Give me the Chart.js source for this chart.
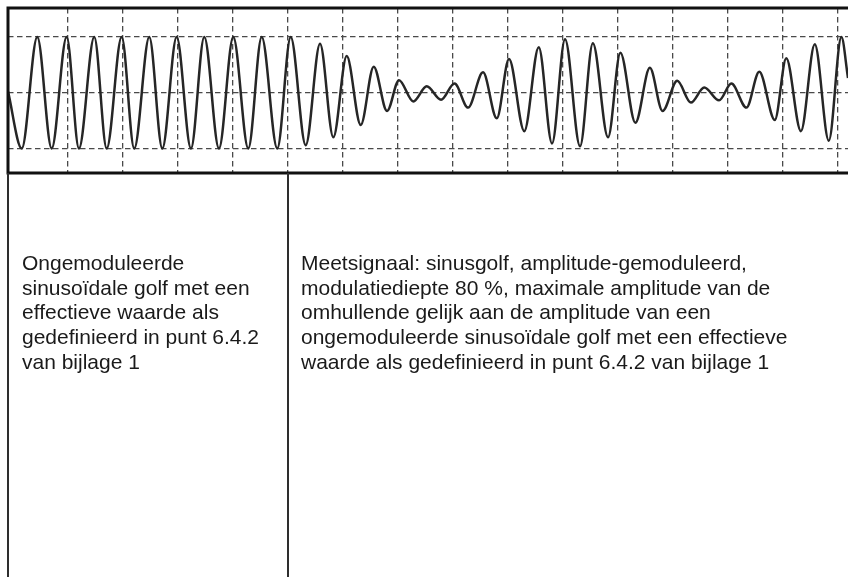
<!DOCTYPE html>
<html>
<head>
<meta charset="utf-8">
<script src="https://cdn.jsdelivr.net/npm/chart.js@4"></script>
<style>
  html, body { margin:0; padding:0; background:#fff; }
  #wrap { position:relative; width:848px; height:577px; overflow:hidden; }
  canvas { position:absolute; left:0; top:0; }
  .vline { position:absolute; top:173px; bottom:0; background:#2e2e2e; }
  .txt { position:absolute; top:251px; font-family:"Liberation Sans", Arial, Helvetica, sans-serif;
         font-size:21px; line-height:24.7px; color:#1a1a1a; white-space:nowrap; }
</style>
</head>
<body>
<div id="wrap">
  <canvas id="c" width="848" height="577"></canvas>
  <div class="vline" style="left:7px;width:2px;"></div>
  <div class="vline" style="left:287px;width:1.5px;"></div>
  <div class="txt" id="leftTxt" style="left:22px;"></div>
  <div class="txt" id="rightTxt" style="left:301px;"></div>
</div>
<script>
// Grid divisions (x) and amplitude levels (y)
const xGrid = [1,2,3,4,5,6,7,8,9,10,11,12,13,14,15];
const yGrid = [-1, 0, 1];

// Unmodulated sine: extrema (x in divisions, y in amplitude)
const unmodX = [-0.09, 0.16, 0.442, 0.704, 0.976, 1.2, 1.478, 1.704, 1.976, 2.205, 2.478, 2.715, 2.976, 3.236, 3.478, 3.745, 4.005, 4.278, 4.522, 4.805];
const unmodY = [0.02, -1, 0.99, -1, 0.99, -1, 0.99, -1, 0.99, -1, 0.99, -1, 0.99, -1, 0.99, -1, 0.99, -1, 0.99, -1];

// Amplitude-modulated signal: extrema
const modX = [5.049, 5.322, 5.582, 5.824, 6.067, 6.322, 6.558, 6.8, 7.018, 7.278, 7.522, 7.782, 8.027, 8.273, 8.545, 8.795, 9.018, 9.295, 9.558, 9.8, 10.036, 10.309, 10.542, 10.818, 11.042, 11.315, 11.578, 11.809, 12.076, 12.324, 12.567, 12.836, 13.06, 13.333, 13.567, 13.849, 14.058, 14.324, 14.576, 14.831, 15.06, 15.18];
const modY = [0.99, -0.94, 0.87, -0.80, 0.65, -0.58, 0.46, -0.33, 0.22, -0.16, 0.11, -0.13, 0.16, -0.27, 0.36, -0.46, 0.60, -0.69, 0.81, -0.91, 0.95, -0.96, 0.88, -0.80, 0.71, -0.54, 0.44, -0.33, 0.21, -0.18, 0.09, -0.14, 0.16, -0.27, 0.37, -0.49, 0.61, -0.69, 0.86, -0.86, 0.99, 0.26];

const xRange = [-0.09, 15.18];
const yRange = [-1.4375, 1.509];

const leftLines = [
  "Ongemoduleerde",
  "sinusoïdale golf met een",
  "effectieve waarde als",
  "gedefinieerd in punt 6.4.2",
  "van bijlage 1"
];
const rightLines = [
  "Meetsignaal: sinusgolf, amplitude-gemoduleerd,",
  "modulatiediepte 80 %, maximale amplitude van de",
  "omhullende gelijk aan de amplitude van een",
  "ongemoduleerde sinusoïdale golf met een effectieve",
  "waarde als gedefinieerd in punt 6.4.2 van bijlage 1"
];

document.getElementById('leftTxt').innerHTML = leftLines.join('<br>');
document.getElementById('rightTxt').innerHTML = rightLines.join('<br>');

const points = unmodX.map((x,i)=>({x, y: unmodY[i]}))
  .concat(modX.map((x,i)=>({x, y: modY[i]})));

const framePlugin = {
  id: 'frame',
  afterDraw(chart) {
    const {ctx, chartArea:a} = chart;
    ctx.save();
    ctx.strokeStyle = '#111';
    ctx.lineWidth = 3;
    ctx.beginPath();
    ctx.moveTo(a.left, a.top); ctx.lineTo(a.right, a.top);
    ctx.moveTo(a.left, a.bottom); ctx.lineTo(a.right, a.bottom);
    ctx.moveTo(a.left, a.top - 1.5); ctx.lineTo(a.left, a.bottom + 1.5);
    ctx.stroke();
    ctx.restore();
  }
};

new Chart(document.getElementById('c'), {
  type: 'line',
  data: {
    datasets: [{
      data: points,
      borderColor: '#262626',
      borderWidth: 2.5,
      pointRadius: 0,
      cubicInterpolationMode: 'monotone',
      fill: false
    }]
  },
  options: {
    responsive: false,
    animation: false,
    events: [],
    layout: { padding: { left: 8, top: 8, right: 0, bottom: 404 } },
    plugins: { legend: { display: false }, tooltip: { enabled: false } },
    scales: {
      x: {
        type: 'linear', min: xRange[0], max: xRange[1],
        afterBuildTicks: s => { s.ticks = xGrid.map(v => ({value: v})); },
        ticks: { display: false },
        grid: { color: '#4a4a4a', lineWidth: 1.3, drawTicks: false },
        border: { display: false, dash: [5.5, 3.5] }
      },
      y: {
        type: 'linear', min: yRange[0], max: yRange[1],
        afterBuildTicks: s => { s.ticks = yGrid.map(v => ({value: v})); },
        ticks: { display: false },
        grid: { color: '#4a4a4a', lineWidth: 1.3, drawTicks: false },
        border: { display: false, dash: [5.5, 3.5] }
      }
    }
  },
  plugins: [framePlugin]
});
</script>
</body>
</html>
